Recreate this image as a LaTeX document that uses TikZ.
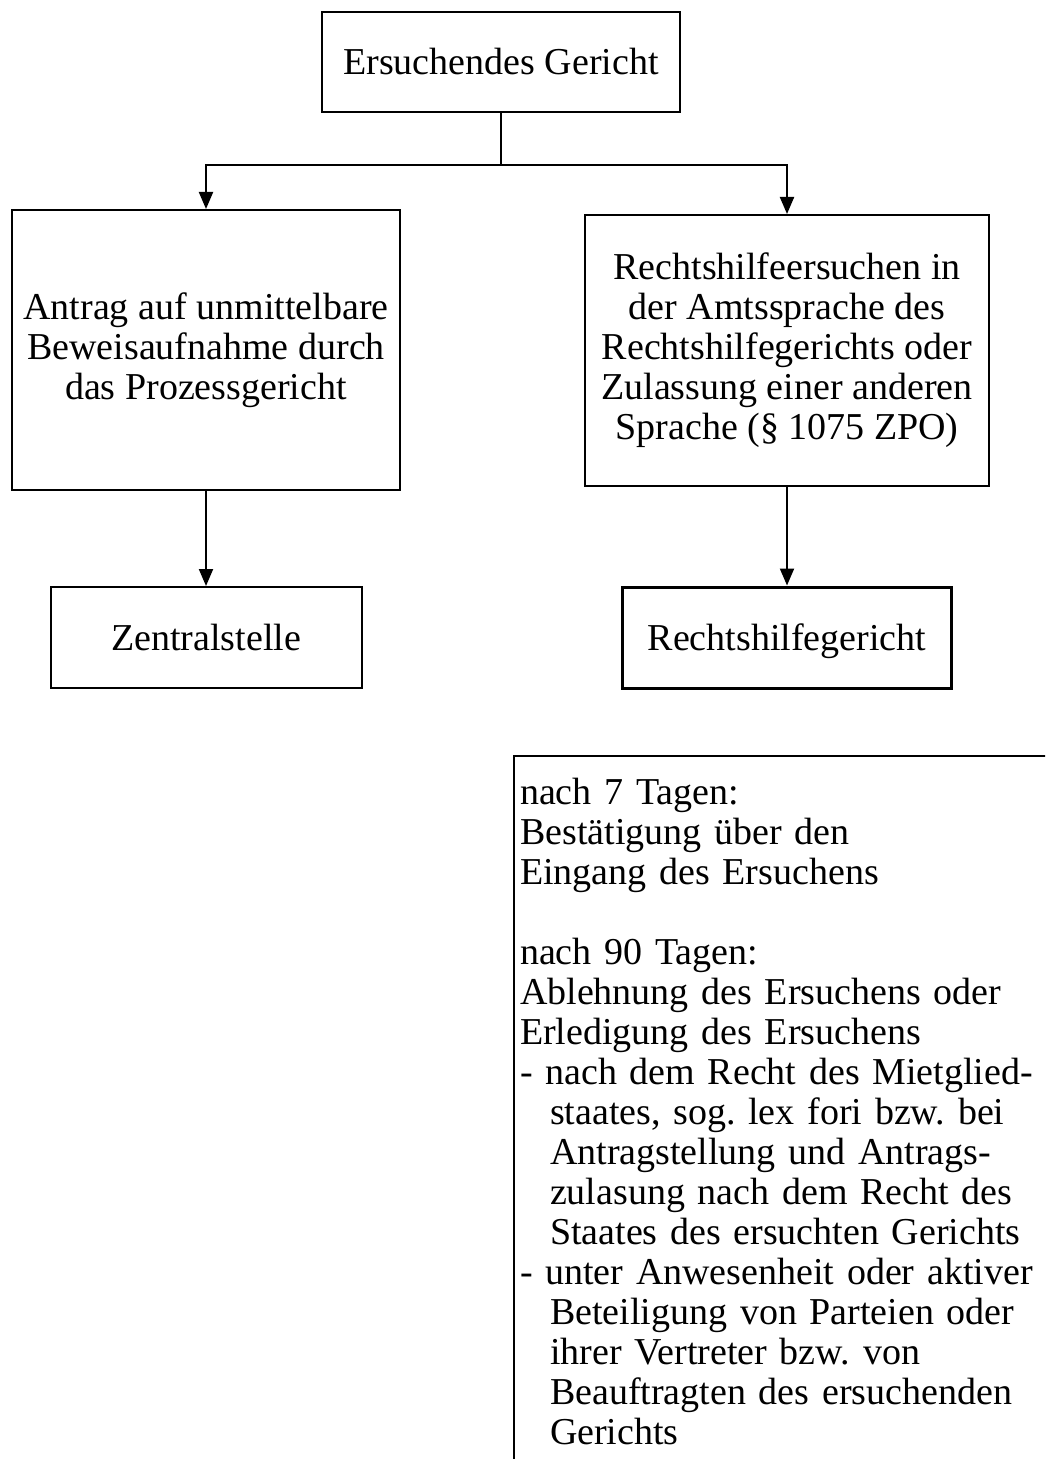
\documentclass[tikz,border=0pt]{standalone}
\usepackage{fontspec}
\setmainfont{Liberation Serif}
\usetikzlibrary{arrows.meta}

\begin{document}
\frenchspacing
\begin{tikzpicture}[x=0.5pt,y=-0.5pt,
  font=\fontsize{19}{20}\selectfont,
  box/.style={draw, line width=1pt, align=center, inner sep=0pt},
  oneline/.style={box, text height=14pt, text depth=1.5pt},
  arrow/.style={-{Triangle[length=8.5pt,width=7pt]}, line width=1pt}]
\useasboundingbox (0,0) rectangle (1045,1459);
\clip (0,0) rectangle (1045,1459);

\node[oneline, minimum width=179pt, minimum height=50pt] (gericht) at (501,62)
{Ersuchendes Gericht};
\node[box, minimum width=194pt, minimum height=140pt] (antrag) at (206,350)
{Antrag auf unmittelbare\\Beweisaufnahme durch\\das Prozessgericht};
\node[box, minimum width=202pt, minimum height=135.5pt] (ersuchen) at (787,350.5)
{Rechtshilfeersuchen in\\der Amtssprache des\\Rechtshilfegerichts oder\\Zulassung einer anderen\\Sprache (\S~1075 ZPO)};
\node[oneline, minimum width=155.5pt, minimum height=50.5pt] (zentral) at (206,637.5)
{Zentralstelle};
\node[oneline, line width=1.5pt, minimum width=164.5pt, minimum height=50.5pt] (rhg) at (787,637.5)
{Rechtshilfegericht};

% Fristen
\node[draw, line width=1pt, anchor=north west, align=left, text width=290pt,
  inner xsep=3pt, inner ysep=11pt] (fristen) at (513,755)
{nach 7 Tagen:\\
Bestätigung über den\\
Eingang des Ersuchens\\[20pt]
nach 90 Tagen:\\
Ablehnung des Ersuchens oder\\
Erledigung des Ersuchens\\
- nach dem Recht des Mietglied-\\
\hspace*{15pt}staates, sog. lex fori bzw. bei\\
\hspace*{15pt}Antragstellung und Antrags-\\
\hspace*{15pt}zulasung nach dem Recht des\\
\hspace*{15pt}Staates des ersuchten Gerichts\\
- unter Anwesenheit oder aktiver\\
\hspace*{15pt}Beteiligung von Parteien oder\\
\hspace*{15pt}ihrer Vertreter bzw. von\\
\hspace*{15pt}Beauftragten des ersuchenden\\
\hspace*{15pt}Gerichts\\
\strut};

\coordinate (split) at (501,165);
\draw[line width=1pt] (gericht) -- (split);
\draw[arrow] (split) -| (antrag);
\draw[arrow] (split) -| (ersuchen);
\draw[arrow] (antrag) -- (zentral);
\draw[arrow] (ersuchen) -- (rhg);
\end{tikzpicture}
\end{document}
